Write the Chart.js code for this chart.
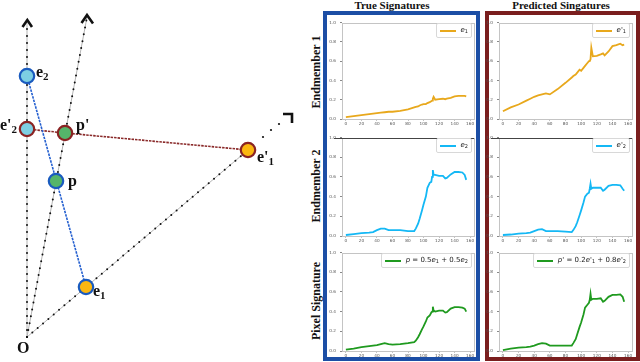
<!DOCTYPE html>
<html><head><meta charset="utf-8">
<script src="https://cdn.jsdelivr.net/npm/chart.js@4.4.1/dist/chart.umd.min.js"></script>
<style>
html,body{margin:0;padding:0;background:#fff;}
body{width:640px;height:362px;position:relative;overflow:hidden;}
canvas{position:absolute;}
.box{position:absolute;box-sizing:border-box;border:4px solid;}
.title{position:absolute;top:0;font:bold 11px "Liberation Serif",serif;color:#111;transform:translateX(-50%);white-space:nowrap;line-height:11px;}
.rowlab{position:absolute;font:bold 12px "Liberation Serif",serif;color:#111;white-space:nowrap;transform:translate(-50%,-50%) rotate(-90deg);line-height:12px;}
.dl{position:absolute;font:bold 16px "Liberation Serif",serif;color:#111;white-space:nowrap;line-height:16px;}
.dl sub{font-size:11px;vertical-align:-3px;line-height:0;}
.leg{position:absolute;background:rgba(255,255,255,0.85);border:1px solid #d8d8d8;border-radius:2px;padding:2px 3px;display:flex;align-items:center;white-space:nowrap;font:7px "DejaVu Sans",sans-serif;color:#222;line-height:9px;}
.leg .ln{display:inline-block;width:16px;height:2px;margin-right:5px;}
.leg sub{font-size:5px;vertical-align:-1px;line-height:0;}
.leg i{font-style:italic;}
</style></head><body>
<div class="box" style="left:323px;top:11px;width:157px;height:350px;border-color:#1c4ea5;"></div>
<div class="box" style="left:485px;top:11px;width:155px;height:350px;border-color:#7a1e1e;"></div>
<div class="title" style="left:392px;">True Signatures</div>
<div class="title" style="left:561px;">Predicted Singatures</div>
<div class="rowlab" style="left:316px;top:72px;">Endmember 1</div>
<div class="rowlab" style="left:316px;top:186px;">Endmember 2</div>
<div class="rowlab" style="left:316px;top:301px;">Pixel Signature</div>

<canvas id="diag" width="300" height="362" style="left:0;top:0;"></canvas>
<div class="dl" style="left:36px;top:64px;">e<sub>2</sub></div>
<div class="dl" style="left:0px;top:117px;">e'<sub>2</sub></div>
<div class="dl" style="left:76px;top:117px;">p'</div>
<div class="dl" style="left:68px;top:173px;">p</div>
<div class="dl" style="left:93px;top:283px;">e<sub>1</sub></div>
<div class="dl" style="left:257px;top:149px;">e'<sub>1</sub></div>
<div class="dl" style="left:17px;top:340px;">O</div>

<script>
// ---------- Spectral panels data ----------
const bandX = [0,10,20,30,35,40,45,50,55,60,70,80,88,90,93,95,98,100,103,105,108,110,111,112,113,115,120,125,128,130,135,140,145,150,153,155];
const trueE1 = [0.02,0.03,0.04,0.05,0.055,0.06,0.065,0.07,0.075,0.075,0.085,0.10,0.12,0.125,0.13,0.14,0.15,0.155,0.155,0.165,0.175,0.185,0.19,0.21,0.23,0.20,0.205,0.21,0.205,0.21,0.22,0.235,0.24,0.24,0.24,0.235];
const predE1 = [0.08,0.12,0.15,0.19,0.21,0.23,0.245,0.255,0.265,0.255,0.31,0.375,0.43,0.445,0.46,0.48,0.51,0.50,0.53,0.55,0.58,0.60,0.60,0.62,0.74,0.65,0.655,0.67,0.68,0.66,0.70,0.755,0.765,0.78,0.765,0.77];
const trueE2 = [0.01,0.02,0.03,0.035,0.04,0.06,0.075,0.075,0.06,0.06,0.06,0.05,0.05,0.075,0.125,0.175,0.26,0.32,0.40,0.49,0.54,0.55,0.60,0.67,0.62,0.62,0.61,0.61,0.585,0.59,0.625,0.65,0.65,0.645,0.62,0.57];
const predE2 = [0.01,0.015,0.025,0.03,0.035,0.05,0.065,0.07,0.05,0.05,0.05,0.045,0.04,0.06,0.10,0.14,0.21,0.26,0.34,0.40,0.43,0.44,0.48,0.53,0.48,0.49,0.49,0.49,0.46,0.47,0.51,0.52,0.52,0.515,0.48,0.46];
const trueP = [0.015,0.025,0.04,0.05,0.055,0.06,0.07,0.08,0.07,0.065,0.07,0.08,0.09,0.105,0.14,0.17,0.22,0.25,0.30,0.34,0.36,0.39,0.40,0.45,0.41,0.40,0.41,0.41,0.39,0.395,0.43,0.445,0.445,0.44,0.43,0.40];
const predP = [0.01,0.025,0.035,0.04,0.045,0.055,0.07,0.08,0.075,0.055,0.055,0.055,0.055,0.08,0.12,0.17,0.245,0.29,0.37,0.44,0.47,0.49,0.52,0.58,0.52,0.53,0.53,0.535,0.50,0.51,0.55,0.57,0.57,0.575,0.55,0.50];
const xTickValues = [0,20,40,60,80,100,120,140,160];
const yTickValues = [0,0.2,0.4,0.6,0.8,1.0];
const seriesLabels = ['e₁',"e'₁",'e₂',"e'₂",'p = 0.5e₁ + 0.5e₂',"p' = 0.2e'₁ + 0.8e'₂"];

// ---------- Diagram data (diagram coordinate space) ----------
const originXY = [27, 337];
const rayTipsX = [27, 87, 248];
const rayTipsY = [23, 17, 150];
const rayExtDotsX = [263, 271, 279];
const rayExtDotsY = [137, 130, 124];
const arrowHeads = [
  [[22.5,27],[27.3,20],[32,27]],
  [[81.5,23],[87,15],[93,23.5]],
  [[283,114],[292,114],[292,123]]
];
const nodeNames = ['e2',"e'2","p'",'p','e1',"e'1"];
const nodeX = [27, 27, 65, 56, 86, 248];
const nodeY = [76, 129, 133, 181, 287, 150];
const nodeFill = ['#7dcfe3','#7dcfe3','#55b56a','#55b56a','#fbb710','#fbb710'];
const nodeEdge = ['#1a5bbf','#8a2323','#8a2323','#1a5bbf','#1a5bbf','#8a2323'];
const trueSegment = [0, 4];      // e2 -> e1
const predSegment = [1, 2, 5];   // e'2 -> p' -> e'1

// ---------- Diagram chart ----------
(function(){
  const ds = [];
  ds.push({data: nodeX.map((x,i)=>({x, y: nodeY[i]})), showLine:false, pointRadius:7.2,
    pointBackgroundColor: nodeFill, pointBorderColor: nodeEdge, pointBorderWidth:2.2, order:0});
  ds.push({data: trueSegment.map(i=>({x:nodeX[i],y:nodeY[i]})), showLine:true, pointRadius:0,
    borderColor:'#2560d0', borderWidth:1.6, borderDash:[2.5,1], order:1});
  ds.push({data: predSegment.map(i=>({x:nodeX[i],y:nodeY[i]})), showLine:true, pointRadius:0,
    borderColor:'#8a2a2a', borderWidth:1.6, borderDash:[2.5,1], order:1});
  rayTipsX.forEach((tx,i)=>{
    const pts = [{x:originXY[0],y:originXY[1]},{x:tx,y:rayTipsY[i]}];
    ds.push({data:pts, showLine:true, pointRadius:0, borderColor:'#b5b5b5', borderWidth:1, order:4});
    ds.push({data:pts, showLine:true, pointRadius:0, borderColor:'#111', borderWidth:2,
      borderDash:[0,7], borderCapStyle:'round', order:3});
  });
  ds.push({data: rayExtDotsX.map((x,i)=>({x,y:rayExtDotsY[i]})), showLine:false, pointRadius:1.1,
    pointBackgroundColor:'#111', pointBorderWidth:0, order:3});
  arrowHeads.forEach(a=>{
    ds.push({data:a.map(p=>({x:p[0],y:p[1]})), showLine:true, pointRadius:0, borderColor:'#111',
      borderWidth:2.6, borderJoinStyle:'miter', order:2});
  });
  new Chart(document.getElementById('diag'), {
    type:'scatter',
    data:{datasets:ds},
    options:{responsive:false, animation:false, devicePixelRatio:1, events:[],
      layout:{padding:0, autoPadding:false},
      plugins:{legend:{display:false}, tooltip:{enabled:false}},
      scales:{x:{type:'linear',min:0,max:300,display:false},
              y:{type:'linear',min:0,max:362,reverse:true,display:false}}}
  });
})();

// ---------- Spectral panels ----------
const YW = 18, XH = 8, PT = 4, PR = 4;
const colX = [342, 499], colW = [132, 133];
const rowY = [20, 135, 250], rowH = [99, 101, 101];

const framePlugin = {
  id:'frame',
  afterDatasetsDraw(chart, args, opts){
    const a = chart.chartArea, c = chart.ctx;
    c.save();
    c.lineWidth = 1;
    c.strokeStyle = '#c4c4c4';
    c.strokeRect(Math.round(a.left)+0.5, Math.round(a.top)+0.5, Math.round(a.right-a.left), Math.round(a.bottom-a.top));
    if (opts.darkTop){
      c.strokeStyle = '#444';
      c.beginPath(); c.moveTo(a.left-8, Math.round(a.top)+0.5); c.lineTo(a.right, Math.round(a.top)+0.5); c.stroke();
    }
    c.restore();
  }
};

function legendHtml(idx){
  const h = [
    '<i>e</i><sub>1</sub>',
    "<i>e</i>'<sub>1</sub>",
    '<i>e</i><sub>2</sub>',
    "<i>e</i>'<sub>2</sub>",
    '<i>p</i> = 0.5<i>e</i><sub>1</sub> + 0.5<i>e</i><sub>2</sub>',
    "<i>p</i>' = 0.2<i>e</i>'<sub>1</sub> + 0.8<i>e</i>'<sub>2</sub>"
  ];
  return h[idx];
}

function panel(col, row, values, color, labelIdx){
  const ax = colX[col], aw = colW[col], ay = rowY[row], ah = rowH[row];
  const cv = document.createElement('canvas');
  cv.width = YW + aw + PR; cv.height = PT + ah + XH;
  cv.style.left = (ax - YW) + 'px'; cv.style.top = (ay - PT) + 'px';
  document.body.appendChild(cv);
  const tickFont = {size:4.2, family:'DejaVu Sans'};
  new Chart(cv, {
    type:'line',
    data:{datasets:[{label: seriesLabels[labelIdx], data: bandX.map((x,i)=>({x, y: values[i]})),
      borderColor:color, backgroundColor:color, borderWidth:1.8, pointRadius:0, tension:0, fill:false}]},
    options:{responsive:false, animation:false, devicePixelRatio:1, events:[],
      layout:{padding:{top:PT, right:PR, left:0, bottom:0}, autoPadding:false},
      plugins:{legend:{display:false}, tooltip:{enabled:false}, frame:{darkTop: row===1}},
      scales:{
        x:{type:'linear', min:-5, max:165,
           afterBuildTicks:s=>{ s.ticks = xTickValues.map(v=>({value:v})); },
           afterFit:s=>{ s.height = XH; },
           grid:{display:true, drawOnChartArea:false, drawTicks:true, tickLength:1.5, color:'#888'},
           border:{display:false},
           ticks:{font:tickFont, color:'#555', padding:0.5, maxRotation:0, autoSkip:false, callback:v=>String(v)}},
        y:{type:'linear', min:0, max:1,
           afterBuildTicks:s=>{ s.ticks = yTickValues.map(v=>({value:v})); },
           afterFit:s=>{ s.width = YW; },
           grid:{display:true, drawOnChartArea:false, drawTicks:true, tickLength:2, color:'#888'},
           border:{display:false},
           ticks:{font:tickFont, color:'#555', padding:4, autoSkip:false, callback:v=>v.toFixed(1)}}
      }},
    plugins:[framePlugin]
  });
  const lg = document.createElement('div');
  lg.className = 'leg';
  lg.innerHTML = '<span class="ln" style="background:'+color+'"></span><span>'+legendHtml(labelIdx)+'</span>';
  lg.style.right = (640 - (ax + aw) + 2) + 'px';
  lg.style.top = (ay + 3) + 'px';
  document.body.appendChild(lg);
}

const orange = '#e8a81c', cyan = '#14b8f5', green = '#1f9a1f';
panel(0,0,trueE1,orange,0);
panel(1,0,predE1,orange,1);
panel(0,1,trueE2,cyan,2);
panel(1,1,predE2,cyan,3);
panel(0,2,trueP,green,4);
panel(1,2,predP,green,5);
</script>
</body></html>
